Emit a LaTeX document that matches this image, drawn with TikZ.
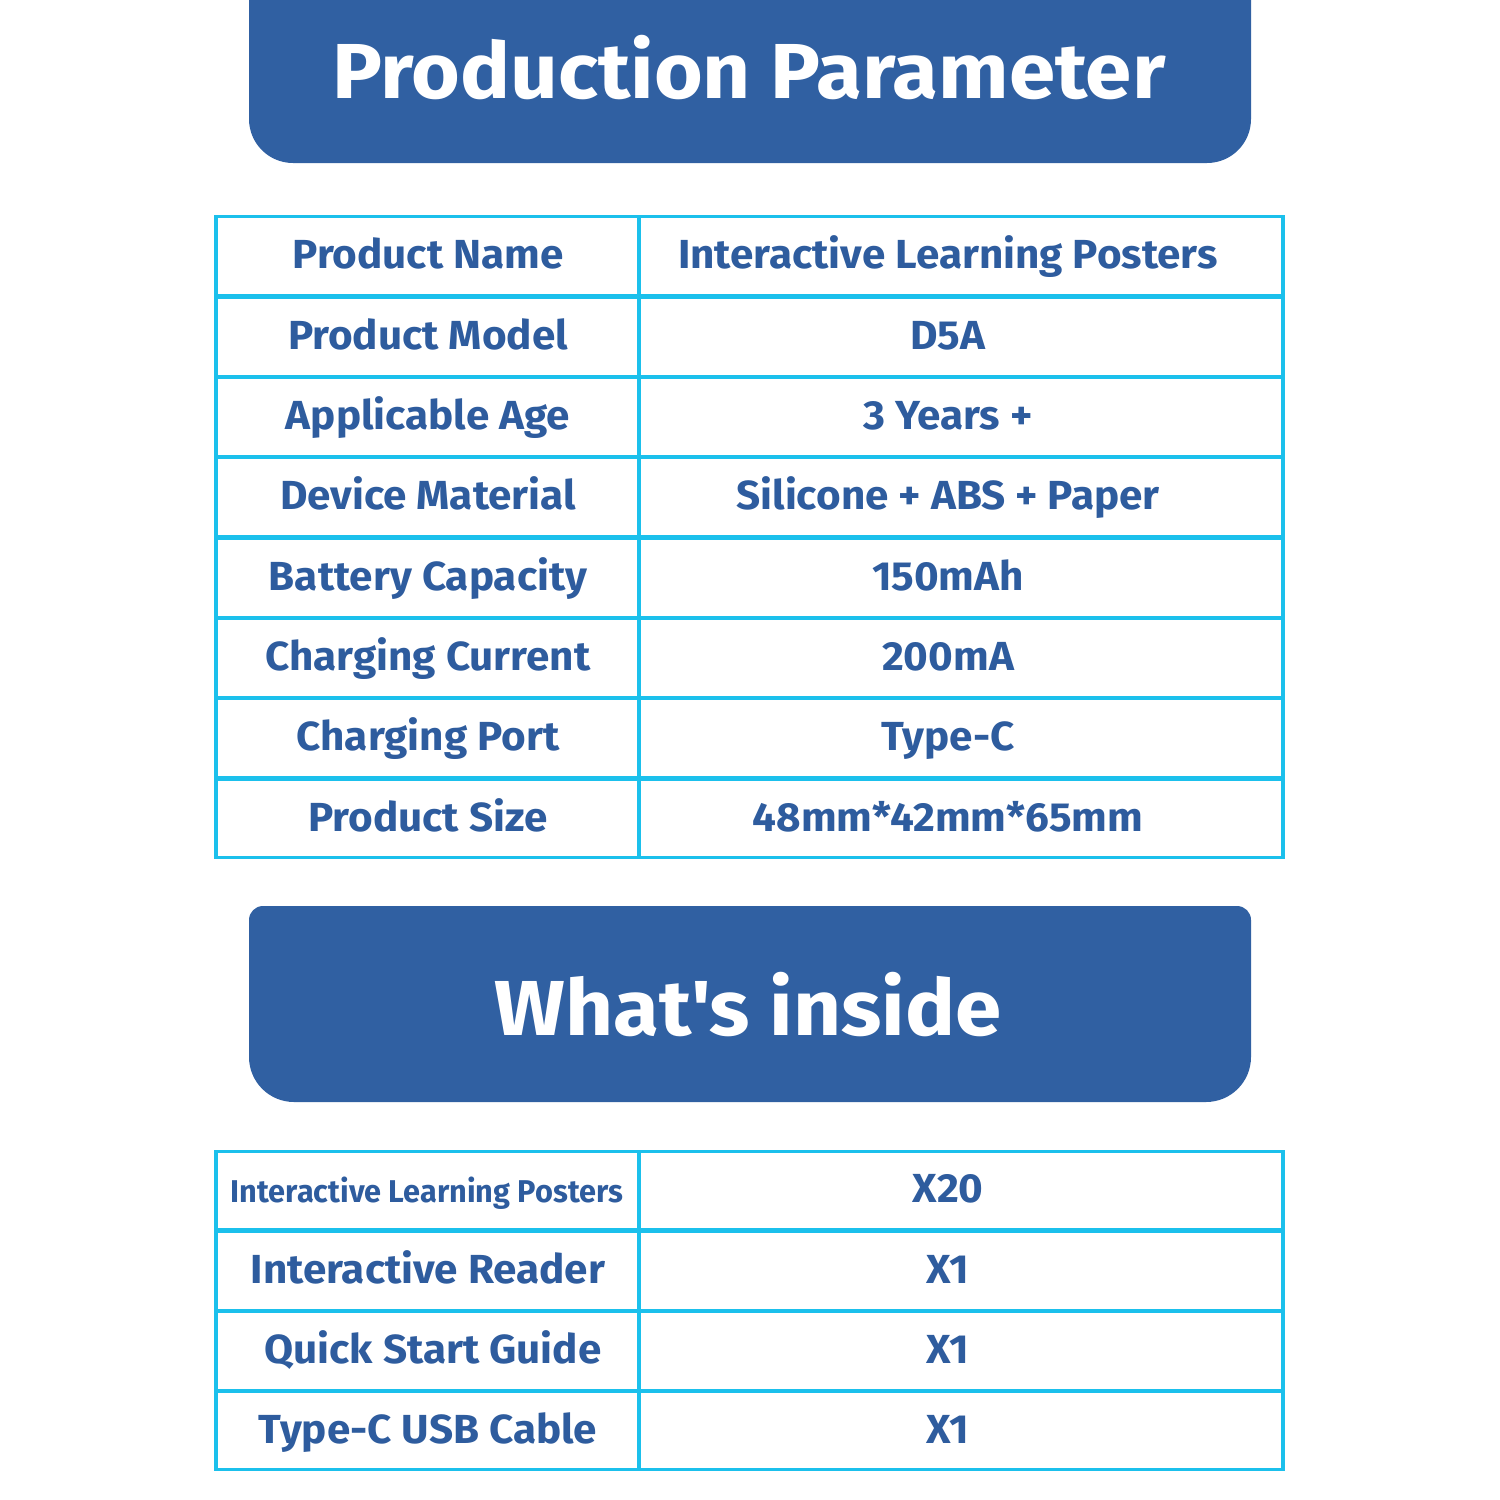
\documentclass[tikz,border=0pt]{standalone}
\usepackage{fontspec}
\setmainfont{Fira Sans}[FakeStretch=1.04]
\newfontfamily\titlefont{Fira Sans}[FakeStretch=1.07]
\newfontfamily\condfont{Fira Sans}[FakeStretch=0.975]
\definecolor{bannerblue}{RGB}{48,96,162}
\definecolor{textblue}{RGB}{46,92,158}
\definecolor{gridcyan}{RGB}{27,192,236}
\begin{document}
\begin{tikzpicture}[x=1pt,y=-1pt,
  banner/.style={fill=bannerblue},
  title/.style={anchor=base,text=white,font=\titlefont\fontsize{78}{80}\selectfont\bfseries,inner sep=0pt},
  cell/.style={anchor=base,text=textblue,font=\fontsize{40.6}{42}\selectfont\bfseries,inner sep=0pt},
  outer/.style={draw=gridcyan,line width=3.5pt},
  rowline/.style={draw=gridcyan,line width=4.5pt},
  colline/.style={draw=gridcyan,line width=3.5pt}]
\useasboundingbox (0,0) rectangle (1500,1500);
\clip (0,0) rectangle (1500,1500);
% banners
\fill[banner,rounded corners=44pt] (249,-100) rectangle (1251,163);
\fill[banner] (249,1000) [rounded corners=14pt] -- (249,906) -- (1251,906) -- (1251,1000) [rounded corners=45pt] -- (1251,1102) -- (249,1102) -- cycle;
\node[title] (t1) at (749,98) {Production Parameter};
\node[title] (t2) at (748,1035) {What\textquotesingle s inside};
% table 1 grid
\foreach \y in {296.5,377,457,537.5,618,698,778.5} {\draw[rowline] (216,\y) -- (1284,\y);}
\draw[colline] (639,216) -- (639,857.5);
\draw[outer] (216,216.5) rectangle (1283,857.5);
% table 2 grid
\foreach \y in {1230.5,1311,1391} {\draw[rowline] (216,\y) -- (1284,\y);}
\draw[colline] (639,1151) -- (639,1470);
\draw[outer] (216,1151.5) rectangle (1283,1469.5);
% table 1 text
\node[cell] (a1) at (428,268) {Product Name};
\node[cell] (b1) at (948,268) {Interactive Learning Posters};
\node[cell] (a2) at (428,349) {Product Model};
\node[cell] (b2) at (948,349) {D5A};
\node[cell] (a3) at (428,429) {Applicable Age};
\node[cell] (b3) at (948,429) {3 Years +};
\node[cell] (a4) at (428,509) {Device Material};
\node[cell] (b4) at (948,509) {Silicone + ABS + Paper};
\node[cell] (a5) at (428,590) {Battery Capacity};
\node[cell] (b5) at (948,590) {150mAh};
\node[cell] (a6) at (428,670) {Charging Current};
\node[cell] (b6) at (948,670) {200mA};
\node[cell] (a7) at (428,750) {Charging Port};
\node[cell] (b7) at (948,750) {Type-C};
\node[cell] (a8) at (428,831) {Product Size};
\node[cell] (b8) at (948,831) {48mm*42mm*65mm};
% table 2 text
\node[cell,font=\condfont\fontsize{31.5}{33}\selectfont\bfseries] (c1) at (427,1202) {Interactive Learning Posters};
\node[cell] (d1) at (948,1202) {X20};
\node[cell] (c2) at (428,1283) {Interactive Reader};
\node[cell] (d2) at (948,1283) {X1};
\node[cell] (c3) at (433,1363) {Quick Start Guide};
\node[cell] (d3) at (948,1363) {X1};
\node[cell] (c4) at (428,1443) {Type-C USB Cable};
\node[cell] (d4) at (948,1443) {X1};
\end{tikzpicture}
\end{document}
